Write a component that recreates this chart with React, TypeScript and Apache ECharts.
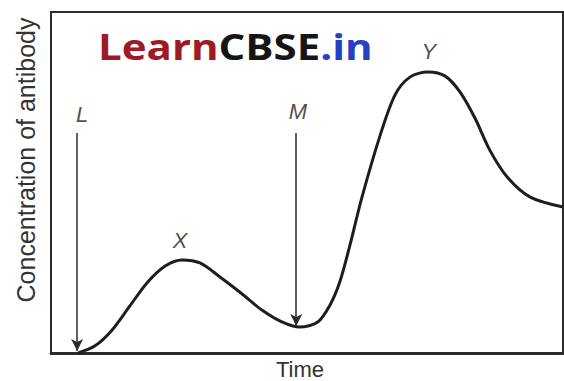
import React, { useEffect, useRef } from "react";
import * as echarts from "echarts";

// Antibody response curve: time (arbitrary units) vs. concentration (arbitrary units)
const timePoints = [
  5.3, 8.6, 11.9, 15.4, 18.9, 22.3, 25.6,
  29.1, 33.0, 37.1, 41.2, 45.1, 48.6,
  52.1, 54.5, 56.4, 58.4, 60.7, 64.3, 67.2, 70.1, 73.6,
  77.0, 79.9, 82.8, 85.7, 89.1, 93.6, 100,
];
const concentration = [
  0, 2.1, 6.7, 13.8, 20.8, 25.5, 27.3,
  26.4, 22.3, 17.6, 12.6, 9.1, 7.6,
  9.1, 14.1, 20.8, 31.7, 45.5, 63.9, 75.7, 80.9, 82.4,
  81.2, 76.5, 68.9, 59.5, 51.6, 45.7, 42.8,
];

// Antigen injections (L = first exposure, M = second exposure)
const injectionTimes = [5.1, 47.9];
const injectionLevels = [0.6, 7.9];
const arrowTop = 64.5;

// Point labels
const markerNames = ["L", "M", "X", "Y"];
const markerTime = [6.1, 48.2, 25.2, 73.8];
const markerLevel = [69.8, 70.7, 33.1, 88.3];

const xTitle = "Time";
const yTitle = "Concentration of antibody";

export default function App() {
  const ref = useRef<HTMLDivElement>(null);

  useEffect(() => {
    if (!ref.current) return;
    const chart = echarts.init(ref.current, null, { renderer: "svg" });

    const curve = timePoints.map((t, i) => [t, concentration[i]]);
    const labels = markerNames.map((n, i) => ({ name: n, value: [markerTime[i], markerLevel[i]] }));
    const arrows = injectionTimes.map((t, i) => [
      { coord: [t, arrowTop], symbol: "none" },
      { coord: [t, injectionLevels[i]], symbol: "arrow" },
    ]);

    chart.setOption({
      animation: false,
      backgroundColor: "#ffffff",
      grid: {
        left: 51,
        right: 1,
        top: 12,
        bottom: 28,
        show: true,
        borderColor: "#2b2b2b",
        borderWidth: 2,
        backgroundColor: "transparent",
      },
      xAxis: {
        type: "value",
        min: 0,
        max: 100,
        axisLine: { show: true, lineStyle: { color: "#2b2b2b", width: 3 } },
        axisTick: { show: false },
        axisLabel: { show: false },
        splitLine: { show: false },
      },
      yAxis: {
        type: "value",
        min: 0,
        max: 100,
        axisLine: { show: true, lineStyle: { color: "#2b2b2b", width: 2 } },
        axisTick: { show: false },
        axisLabel: { show: false },
        splitLine: { show: false },
      },
      series: [
        {
          type: "line",
          data: curve,
          smooth: 0.3,
          showSymbol: false,
          lineStyle: { color: "#1e1e1e", width: 3 },
          markLine: {
            silent: true,
            symbolSize: [9, 12],
            label: { show: false },
            lineStyle: { color: "#2b2b2b", width: 1.5, type: "solid" },
            data: arrows,
          },
        },
        {
          type: "scatter",
          data: labels,
          symbolSize: 0,
          silent: true,
          label: {
            show: true,
            position: "inside",
            formatter: (p: any) => p.name,
            fontFamily: "Liberation Sans, Arial, sans-serif",
            fontStyle: "italic",
            fontSize: 22,
            color: "#222",
          },
        },
      ],
      graphic: [
        {
          type: "text",
          x: 26,
          y: 160,
          rotation: Math.PI / 2,
          style: {
            text: yTitle,
            fontFamily: "Liberation Sans, Arial, sans-serif",
            fontSize: 25,
            fill: "#333",
            align: "center",
            verticalAlign: "middle",
          },
        },
        {
          type: "text",
          x: 300,
          y: 369,
          style: {
            text: xTitle,
            fontFamily: "Liberation Sans, Arial, sans-serif",
            fontSize: 22,
            fill: "#333",
            align: "center",
            verticalAlign: "middle",
          },
        },
        {
          type: "text",
          x: 98,
          y: 46,
          scaleX: 1.2,
          style: {
            text: "{r|Learn}{k|CBSE}{b|.in}",
            fontFamily: "Open Sans, sans-serif",
            fontWeight: 700,
            fontSize: 35,
            verticalAlign: "middle",
            align: "left",
            rich: {
              r: { fill: "#9e1a24", fontFamily: "Open Sans, sans-serif", fontWeight: 700, fontSize: 35 },
              k: { fill: "#151515", fontFamily: "Open Sans, sans-serif", fontWeight: 700, fontSize: 35 },
              b: { fill: "#2540c4", fontFamily: "Open Sans, sans-serif", fontWeight: 700, fontSize: 35 },
            },
          },
        },
      ],
    });

    return () => chart.dispose();
  }, []);

  return <div ref={ref} style={{ width: 564, height: 381, position: "fixed", left: 0, top: 0 }} />;
}
